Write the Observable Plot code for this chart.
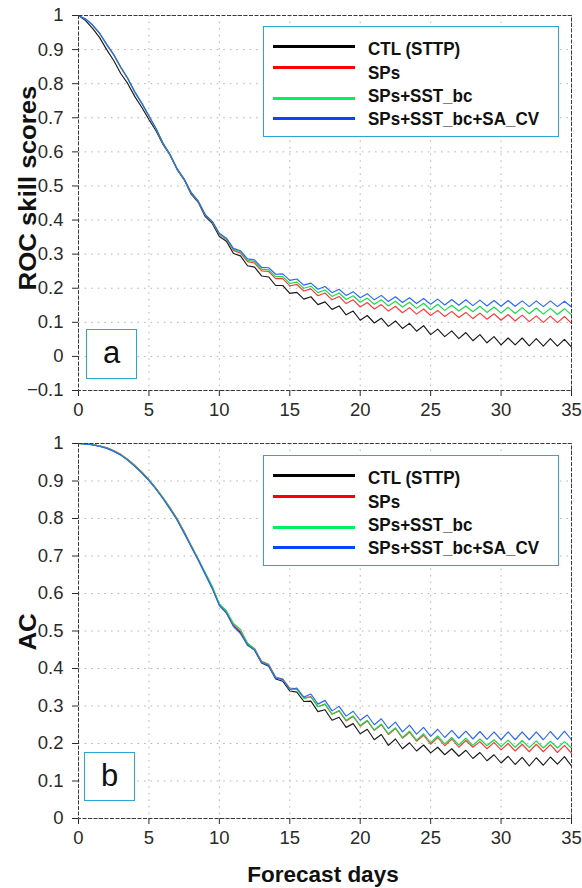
<!DOCTYPE html>
<html><head><meta charset="utf-8">
<script src="https://cdn.jsdelivr.net/npm/d3@7"></script>
<script src="https://cdn.jsdelivr.net/npm/@observablehq/plot@0.6"></script>
<style>
body{margin:0;background:#fff;}
#wrap{position:relative;width:582px;height:888px;overflow:hidden;font-family:"Liberation Sans",Arial,sans-serif;background:#fff;}
.panel{position:absolute;left:0;}
.panel text{font-size:18.5px;font-family:"Liberation Sans",Arial,sans-serif;}
.leg{position:absolute;left:263px;width:296px;height:111px;border:1.5px solid #2aa6d6;background:#fff;box-sizing:border-box;}
.ll{position:absolute;left:9px;width:82px;height:3px;}
.lt{position:absolute;left:104px;height:20px;line-height:20px;font-weight:bold;font-size:17px;color:#111;white-space:nowrap;transform:scaleY(1.12);transform-origin:left center;}
.lab{position:absolute;width:51px;height:50px;border:1.5px solid #2aa6d6;background:#fff;box-sizing:border-box;text-align:center;line-height:44px;font-size:31px;color:#111;}
.ytitle{position:absolute;font-weight:bold;font-size:23px;color:#111;white-space:nowrap;transform:translate(-50%,-50%) rotate(-90deg) scaleX(1.12);}
.xtitle{position:absolute;left:323px;top:875px;font-weight:bold;font-size:22.5px;color:#111;white-space:nowrap;transform:translate(-50%,-50%);}
</style>
</head><body>
<div id="wrap"></div>
<script>
const days = [0,0.5,1,1.5,2,2.5,3,3.5,4,4.5,5,5.5,6,6.5,7,7.5,8,8.5,9,9.5,10,10.5,11,11.5,12,12.5,13,13.5,14,14.5,
  15,15.5,16,16.5,17,17.5,18,18.5,19,19.5,20,20.5,21,21.5,22,22.5,23,23.5,24,24.5,25,25.5,26,26.5,27,27.5,28,28.5,29,29.5,
  30,30.5,31,31.5,32,32.5,33,33.5,34,34.5,35];

const seriesNames = ["CTL (STTP)", "SPs", "SPs+SST_bc", "SPs+SST_bc+SA_CV"];
const lineColors = ["#1a1a1a", "#ff3a3a", "#14dc46", "#2a66ff"];
const legendColors = ["#000000", "#ff0000", "#00f060", "#0048ff"];

const xTicks = [0,5,10,15,20,25,30,35];
const yTicksA = [-0.1,0,0.1,0.2,0.3,0.4,0.5,0.6,0.7,0.8,0.9,1];
const yTicksB = [0,0.1,0.2,0.3,0.4,0.5,0.6,0.7,0.8,0.9,1];

// Panel a: ROC skill scores
const rocCTL = [1.000,0.985,0.962,0.935,0.900,0.868,0.830,0.800,0.762,0.730,
  0.695,0.662,0.622,0.590,0.548,0.518,0.476,0.452,0.410,0.390,
  0.352,0.338,0.302,0.295,0.266,0.262,0.236,0.233,0.208,0.208,
  0.185,0.188,0.168,0.175,0.152,0.160,0.138,0.148,0.122,0.133,
  0.106,0.120,0.098,0.112,0.088,0.104,0.082,0.097,0.074,0.090,
  0.064,0.080,0.058,0.075,0.052,0.070,0.046,0.064,0.040,0.058,
  0.034,0.054,0.034,0.054,0.031,0.052,0.030,0.052,0.030,0.050,
  0.027];
const rocSPs = [1.000,0.990,0.972,0.947,0.914,0.884,0.847,0.814,0.774,0.741,
  0.704,0.667,0.624,0.591,0.549,0.519,0.479,0.454,0.414,0.394,
  0.358,0.343,0.311,0.303,0.278,0.274,0.251,0.249,0.228,0.228,
  0.207,0.211,0.192,0.198,0.178,0.186,0.166,0.176,0.155,0.166,
  0.145,0.158,0.139,0.152,0.133,0.147,0.128,0.143,0.124,0.139,
  0.120,0.135,0.117,0.132,0.114,0.129,0.111,0.127,0.109,0.125,
  0.106,0.123,0.104,0.121,0.102,0.119,0.100,0.118,0.099,0.117,
  0.097];
const rocSST = [1.000,0.990,0.972,0.948,0.915,0.885,0.848,0.815,0.775,0.742,
  0.705,0.668,0.625,0.592,0.550,0.520,0.480,0.455,0.415,0.395,
  0.359,0.345,0.314,0.307,0.282,0.278,0.256,0.254,0.234,0.234,
  0.214,0.218,0.200,0.206,0.187,0.195,0.176,0.186,0.167,0.178,
  0.159,0.171,0.153,0.166,0.148,0.162,0.145,0.159,0.141,0.156,
  0.137,0.153,0.135,0.150,0.133,0.148,0.131,0.147,0.129,0.145,
  0.127,0.144,0.126,0.143,0.125,0.142,0.124,0.141,0.123,0.140,
  0.122];
const rocSACV = [1.000,0.990,0.972,0.948,0.916,0.886,0.849,0.816,0.776,0.743,
  0.706,0.669,0.626,0.593,0.551,0.521,0.481,0.456,0.416,0.396,
  0.361,0.347,0.317,0.310,0.286,0.283,0.261,0.260,0.241,0.242,
  0.223,0.227,0.209,0.215,0.197,0.205,0.187,0.197,0.179,0.190,
  0.172,0.184,0.166,0.179,0.161,0.175,0.158,0.172,0.155,0.170,
  0.153,0.168,0.151,0.167,0.150,0.166,0.149,0.165,0.148,0.164,
  0.147,0.164,0.147,0.163,0.146,0.163,0.146,0.163,0.146,0.162,
  0.145];

// Panel b: AC
const acCTL = [1.000,0.999,0.997,0.993,0.988,0.980,0.970,0.956,0.940,0.922,
  0.902,0.879,0.854,0.826,0.797,0.762,0.726,0.690,0.652,0.614,
  0.569,0.549,0.514,0.496,0.463,0.449,0.415,0.406,0.372,0.366,
  0.340,0.337,0.312,0.313,0.285,0.290,0.262,0.270,0.243,0.253,
  0.226,0.238,0.210,0.224,0.195,0.212,0.186,0.202,0.180,0.196,
  0.175,0.190,0.170,0.186,0.166,0.182,0.160,0.176,0.154,0.170,
  0.148,0.166,0.144,0.163,0.140,0.162,0.142,0.164,0.145,0.165,
  0.140];
const acSPs = [1.000,0.999,0.997,0.994,0.989,0.981,0.971,0.958,0.942,0.924,
  0.904,0.881,0.856,0.829,0.800,0.765,0.728,0.692,0.654,0.616,
  0.571,0.551,0.516,0.499,0.466,0.453,0.419,0.411,0.377,0.372,
  0.348,0.346,0.322,0.325,0.298,0.305,0.278,0.287,0.260,0.272,
  0.246,0.260,0.235,0.250,0.224,0.240,0.214,0.230,0.206,0.222,
  0.198,0.216,0.194,0.212,0.190,0.208,0.190,0.205,0.186,0.203,
  0.183,0.200,0.180,0.198,0.178,0.198,0.178,0.197,0.176,0.195,
  0.174];
const acSST = [1.000,0.999,0.997,0.993,0.988,0.980,0.970,0.957,0.941,0.923,
  0.903,0.880,0.855,0.828,0.798,0.764,0.727,0.692,0.655,0.619,
  0.572,0.554,0.520,0.504,0.468,0.452,0.418,0.409,0.375,0.370,
  0.345,0.344,0.320,0.324,0.298,0.305,0.278,0.288,0.262,0.274,
  0.248,0.262,0.236,0.252,0.226,0.242,0.216,0.233,0.209,0.226,
  0.202,0.220,0.199,0.216,0.196,0.214,0.195,0.212,0.194,0.210,
  0.192,0.209,0.190,0.208,0.189,0.207,0.188,0.206,0.188,0.205,
  0.188];
const acSACV = [1.000,0.999,0.996,0.992,0.987,0.979,0.969,0.955,0.939,0.921,
  0.901,0.878,0.853,0.825,0.796,0.761,0.725,0.689,0.651,0.613,
  0.568,0.548,0.512,0.493,0.462,0.449,0.416,0.408,0.374,0.371,
  0.344,0.348,0.324,0.332,0.305,0.315,0.287,0.299,0.273,0.286,
  0.262,0.276,0.250,0.266,0.240,0.257,0.231,0.249,0.225,0.243,
  0.219,0.238,0.216,0.235,0.214,0.233,0.212,0.232,0.211,0.231,
  0.210,0.231,0.210,0.231,0.210,0.231,0.210,0.232,0.211,0.233,
  0.210];

function tidy(arrs) {
  const out = [];
  arrs.forEach((arr, i) => arr.forEach((v, j) => out.push({day: days[j], value: v, series: seriesNames[i]})));
  return out;
}
const dataA = tidy([rocCTL, rocSPs, rocSST, rocSACV]);
const dataB = tidy([acCTL, acSPs, acSST, acSACV]);

const fmt = d => d === 0 ? "0" : d3.format("~g")(d);

function panel(data, yTicks, yDomain, mt, mb) {
  return Plot.plot({
    width: 582, height: 425,
    marginTop: mt, marginBottom: mb, marginLeft: 78, marginRight: 11,
    style: {fontFamily: "'Liberation Sans', Arial, sans-serif", fontSize: "18.5px", color: "#2a2a2a", background: "#fff", overflow: "visible"},
    x: {domain: [0, 35], ticks: xTicks, tickSize: 6, tickPadding: 6, tickFormat: d => String(d), label: null},
    y: {domain: yDomain, ticks: yTicks, tickSize: 6, tickPadding: 9, tickFormat: fmt, label: null},
    color: {domain: seriesNames, range: lineColors},
    marks: [
      Plot.ruleX(xTicks, {stroke: "#b5b5b5", strokeDasharray: "1.6,5", strokeWidth: 1}),
      Plot.ruleY(yTicks, {stroke: "#b5b5b5", strokeDasharray: "1.6,5", strokeWidth: 1}),
      Plot.line(data, {x: "day", y: "value", z: "series", stroke: "series", strokeWidth: 1.15}),
      Plot.frame({stroke: "#3a3a3a", strokeDasharray: "4,1.5", strokeWidth: 1})
    ]
  });
}

const wrap = document.getElementById("wrap");
const pa = panel(dataA, yTicksA, [-0.1, 1], 15, 35);
pa.classList.add("panel"); pa.style.top = "0px";
const pb = panel(dataB, yTicksB, [0, 1], 18, 32);
pb.classList.add("panel"); pb.style.top = "425px";
wrap.appendChild(pa); wrap.appendChild(pb);

function legend(top) {
  const box = document.createElement("div");
  box.className = "leg"; box.style.top = top + "px";
  const lineTops = [18, 39, 70, 90];
  const textTops = [12, 36, 59, 82];
  seriesNames.forEach((name, i) => {
    const l = document.createElement("div");
    l.className = "ll"; l.style.top = lineTops[i] + "px"; l.style.background = legendColors[i];
    box.appendChild(l);
    const t = document.createElement("div");
    t.className = "lt"; t.style.top = textTops[i] + "px"; t.textContent = name;
    box.appendChild(t);
  });
  wrap.appendChild(box);
}
legend(26);
legend(455);

function label(txt, left, top, h) {
  const d = document.createElement("div");
  d.className = "lab"; d.style.left = left + "px"; d.style.top = top + "px"; d.style.height = h + "px"; d.style.lineHeight = (h - 4) + "px";
  d.textContent = txt;
  wrap.appendChild(d);
}
label("a", 86, 329, 50);
label("b", 84, 752, 49);

function ytitle(txt, x, y) {
  const d = document.createElement("div");
  d.className = "ytitle"; d.style.left = x + "px"; d.style.top = y + "px";
  d.textContent = txt;
  wrap.appendChild(d);
}
ytitle("ROC skill scores", 28, 188);
ytitle("AC", 28, 632);

const xt = document.createElement("div");
xt.className = "xtitle"; xt.textContent = "Forecast days";
wrap.appendChild(xt);
</script>
</body></html>
